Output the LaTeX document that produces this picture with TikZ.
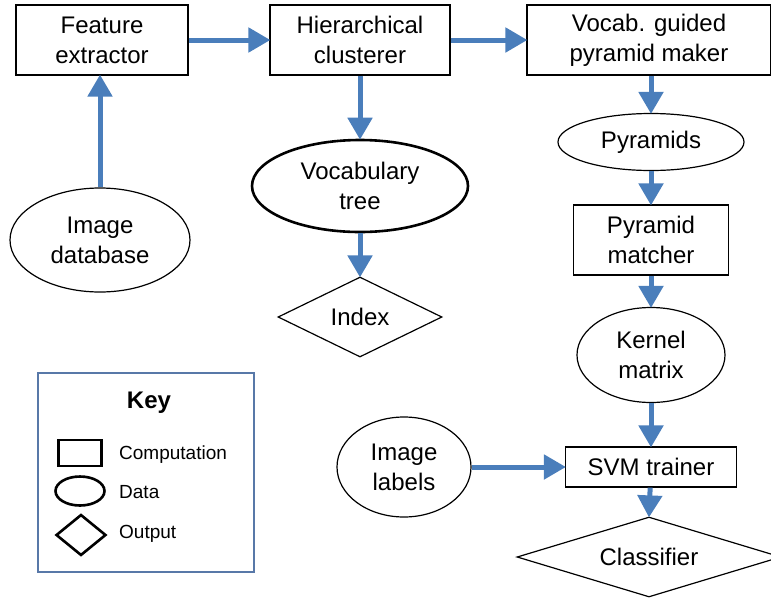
\documentclass[tikz,border=0pt]{standalone}
\usepackage{fontspec}
\setmainfont{Liberation Sans}
\usetikzlibrary{shapes.geometric,arrows.meta}
\definecolor{flowblue}{HTML}{4A7EBB}
\definecolor{keyframe}{HTML}{5878A8}
\tikzset{
  x=1pt, y=-1pt,
  lbl/.style={font=\fontsize{24}{30}\selectfont, align=center, inner sep=0pt},
  compbox/.style={lbl, draw, line width=1.2pt, rectangle},
  databox/.style={lbl, draw, line width=1.2pt, ellipse},
  outbox/.style={lbl, draw, line width=1.2pt, diamond},
  arr/.style={draw=flowblue, line width=5pt, -{Triangle[length=22pt,width=24pt]}, shorten >=-1pt},
  keytext/.style={font=\fontsize{19}{22}\selectfont, anchor=west, inner sep=0pt},
  keyshape/.style={draw, line width=2.6pt, inner sep=0pt}
}
\begin{document}
\begin{tikzpicture}
\useasboundingbox (0,0) rectangle (771,600);

% computation stages
\node[compbox, minimum width=172pt, minimum height=70pt] (fe) at (102,40) {Feature\\extractor};
\node[compbox, minimum width=180pt, minimum height=70pt] (hc) at (360,40) {Hierarchical\\clusterer};
\node[compbox, minimum width=244pt, minimum height=70pt] (vg) at (649,40) {Vocab. guided\\pyramid maker};
\node[compbox, minimum width=155pt, minimum height=70pt] (pm) at (651,240) {Pyramid\\matcher};
\node[compbox, minimum width=171pt, minimum height=40pt] (svm) at (651,467) {SVM trainer};

% data
\node[databox, minimum width=180pt, minimum height=104pt] (db) at (100,240) {Image\\database};
\node[databox, line width=2.6pt, minimum width=216pt, minimum height=92pt] (vt) at (360,186) {Vocabulary\\tree};
\node[databox, minimum width=186pt, minimum height=57pt] (py) at (651,142) {Pyramids};
\node[databox, minimum width=148pt, minimum height=95pt] (km) at (651,355) {Kernel\\matrix};
\node[databox, minimum width=134pt, minimum height=100pt] (il) at (404,467) {Image\\labels};

% outputs
\node[outbox, aspect=2, minimum width=164pt, minimum height=80pt] (ix) at (360,317) {Index};
\node[outbox, aspect=3.3, minimum width=264pt, minimum height=80pt] (cl) at (649,557) {Classifier};

% flow
\draw[arr] (db.north) -- (db.north |- fe.south);
\draw[arr] (fe) -- (hc);
\draw[arr] (hc) -- (vg);
\draw[arr] (hc) -- (vt);
\draw[arr] (vt) -- (ix);
\draw[arr] (vg.south -| py.north) -- (py);
\draw[arr] (py) -- (pm);
\draw[arr] (pm) -- (km);
\draw[arr] (km) -- (svm);
\draw[arr] (il) -- (svm);
\draw[arr] (svm) -- (cl.north);

% key
\node[draw=keyframe, line width=1.3pt, minimum width=216pt, minimum height=199pt, inner sep=0pt] (key) at (146,472.5) {};
\node[font=\bfseries\fontsize{24}{28}\selectfont, inner sep=0pt] (keyt) at (149,403) {Key};
\node[keyshape, rectangle, minimum width=43pt, minimum height=26pt] (kr) at (80,453) {};
\node[keyshape, ellipse, minimum width=49pt, minimum height=29pt] (ke) at (80,491) {};
\node[keyshape, diamond, minimum width=50pt, minimum height=41pt] (kd) at (81,535) {};
\node[keytext] (krt) at (119,455) {Computation};
\node[keytext] (ket) at (119,492) {Data};
\node[keytext] (kdt) at (119,534) {Output};
\end{tikzpicture}
\end{document}
